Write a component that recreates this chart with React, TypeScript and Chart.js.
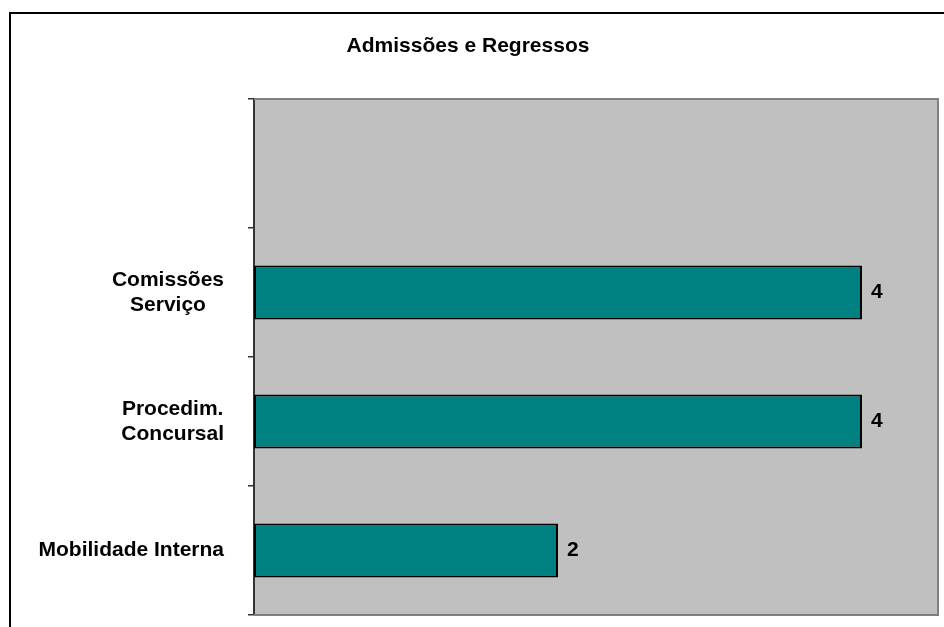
import { useEffect, useRef } from "react";
import { Chart, registerables } from "chart.js";

Chart.register(...registerables);

// Categories, top to bottom (the first slot is an empty category)
const categories: string[][] = [
  [""],
  ["Comissões", "Serviço"],
  ["Procedim.", "Concursal"],
  ["Mobilidade Interna"],
];
const values: (number | null)[] = [null, 4, 4, 2];
const chartTitle = "Admissões e Regressos";
const xMax = 4.5;

const FONT = '"Liberation Sans", Arial, sans-serif';

const decorPlugin = {
  id: "decor",
  beforeDraw(chart: any) {
    const { ctx, chartArea, width, height } = chart;
    ctx.save();
    ctx.fillStyle = "#ffffff";
    ctx.fillRect(0, 0, width, height);
    // outer frame
    ctx.strokeStyle = "#000000";
    ctx.lineWidth = 2;
    ctx.strokeRect(10, 13, width + 20, height + 20);
    // plot background
    ctx.fillStyle = "#c0c0c0";
    ctx.fillRect(chartArea.left, chartArea.top, chartArea.right - chartArea.left, chartArea.bottom - chartArea.top);
    ctx.restore();
  },
  afterDraw(chart: any) {
    const { ctx, chartArea } = chart;
    ctx.save();
    // plot frame: top, right, bottom
    ctx.strokeStyle = "#808080";
    ctx.lineWidth = 2;
    ctx.beginPath();
    ctx.moveTo(chartArea.left, chartArea.top);
    ctx.lineTo(chartArea.right, chartArea.top);
    ctx.lineTo(chartArea.right, chartArea.bottom);
    ctx.lineTo(chartArea.left, chartArea.bottom);
    ctx.stroke();

    // title
    ctx.fillStyle = "#000000";
    ctx.font = `bold 21px ${FONT}`;
    ctx.textAlign = "center";
    ctx.textBaseline = "alphabetic";
    ctx.fillText(chartTitle, 468, 52);

    // category labels, lines centred within each label block
    const yScale = chart.scales.y;
    const rightEdge = 224;
    const lineH = 25;
    ctx.textBaseline = "middle";
    (chart.data.labels as string[][]).forEach((lines, i) => {
      const cy = yScale.getPixelForValue(i);
      const maxW = Math.max(...lines.map((l) => ctx.measureText(l).width));
      const cx = rightEdge - maxW / 2;
      const y0 = cy - ((lines.length - 1) * lineH) / 2;
      lines.forEach((l, j) => ctx.fillText(l, cx, y0 + j * lineH));
    });

    // value labels at bar ends
    const meta = chart.getDatasetMeta(0);
    ctx.textAlign = "left";
    meta.data.forEach((bar: any, i: number) => {
      const v = chart.data.datasets[0].data[i];
      if (v == null) return;
      ctx.fillText(String(v), bar.x + 9, bar.y);
    });
    ctx.restore();
  },
};

export default function App() {
  const ref = useRef<HTMLCanvasElement | null>(null);

  useEffect(() => {
    if (!ref.current) return;
    const chart = new Chart(ref.current, {
      type: "bar",
      data: {
        labels: categories as any,
        datasets: [
          {
            data: values,
            backgroundColor: "#008080",
            borderColor: "#000000",
            borderWidth: 2,
            borderSkipped: false,
            categoryPercentage: 1,
            barPercentage: 0.42,
          },
        ],
      },
      options: {
        indexAxis: "y",
        responsive: false,
        animation: false,
        layout: { padding: { left: 0, top: 99, right: 6, bottom: 12 } },
        plugins: {
          legend: { display: false },
          title: { display: false },
          tooltip: { enabled: false },
        },
        scales: {
          x: {
            display: false,
            min: 0,
            max: xMax,
          },
          y: {
            type: "category",
            grid: {
              offset: true,
              drawOnChartArea: false,
              drawTicks: true,
              tickLength: 6,
              color: "#333333",
              lineWidth: 1.5,
            },
            border: { display: true, color: "#333333", width: 2 },
            ticks: { display: false },
            afterFit(scale: any) {
              scale.width = 254;
            },
          },
        },
      },
      plugins: [decorPlugin],
    });
    return () => chart.destroy();
  }, []);

  return (
    <div style={{ position: "fixed", left: 0, top: 0, width: 944, height: 627 }}>
      <canvas ref={ref} width={944} height={627} style={{ display: "block" }} />
    </div>
  );
}
